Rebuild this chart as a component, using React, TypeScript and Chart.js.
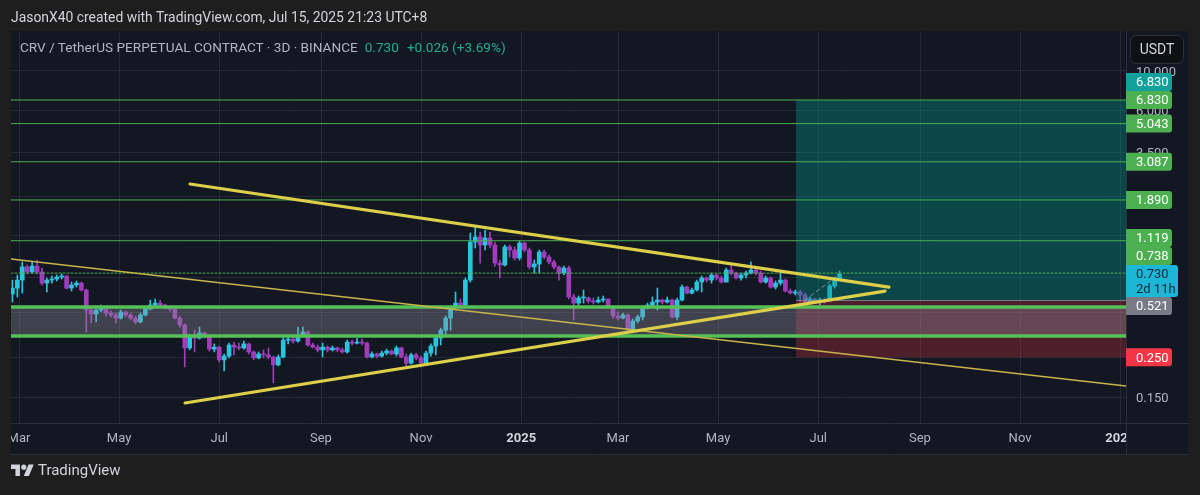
import React, { useEffect, useRef } from 'react';
import { Chart, registerables } from 'chart.js';

Chart.register(...registerables);

// ---------------- data ----------------
// candle times: day offsets from 2024-03-01, one 3D candle each
const firstCandleDay = -4;
const candleStepDays = 3;
const firstOpen = 0.564;
const closes = [
  0.609, 0.675, 0.799, 0.749, 0.808, 0.749, 0.649, 0.675, 0.684, 0.702,
  0.711, 0.609, 0.633, 0.649, 0.594, 0.459, 0.436, 0.459, 0.471, 0.442,
  0.431, 0.414, 0.448, 0.431, 0.414, 0.394, 0.431, 0.465, 0.49, 0.502,
  0.49, 0.478, 0.465, 0.414, 0.379, 0.282, 0.329, 0.32, 0.342, 0.329,
  0.278, 0.285, 0.242, 0.254, 0.293, 0.285, 0.282, 0.297, 0.268, 0.248,
  0.261, 0.258, 0.251, 0.227, 0.251, 0.312, 0.316, 0.308, 0.329, 0.346,
  0.293, 0.285, 0.275, 0.285, 0.275, 0.282, 0.275, 0.268, 0.304, 0.3,
  0.304, 0.3, 0.251, 0.261, 0.254, 0.264, 0.271, 0.261, 0.282, 0.251,
  0.232, 0.258, 0.248, 0.232, 0.264, 0.289, 0.32, 0.355, 0.414, 0.471,
  0.502, 0.49, 0.675, 1.101, 1.174, 1.059, 1.159, 1.059, 0.84, 0.819,
  1.033, 0.993, 0.896, 1.087, 0.993, 0.799, 0.83, 0.968, 0.908, 0.852,
  0.799, 0.738, 0.788, 0.543, 0.502, 0.536, 0.536, 0.516, 0.509, 0.522,
  0.529, 0.478, 0.425, 0.414, 0.431, 0.355, 0.399, 0.42, 0.471, 0.49,
  0.509, 0.522, 0.509, 0.522, 0.42, 0.522, 0.617, 0.571, 0.594, 0.658,
  0.693, 0.675, 0.72, 0.693, 0.658, 0.768, 0.738, 0.693, 0.72, 0.738,
  0.768, 0.738, 0.658, 0.693, 0.617, 0.649, 0.675, 0.586, 0.571, 0.579,
  0.557, 0.509, 0.529, 0.516, 0.522, 0.516, 0.625, 0.684, 0.73,
];
const highs = [
  0.675, 0.72, 0.852, 0.819, 0.852, 0.873, 0.788, 0.693, 0.711, 0.72,
  0.73, 0.715, 0.658, 0.667, 0.658, 0.602, 0.471, 0.483, 0.49, 0.478,
  0.453, 0.442, 0.459, 0.453, 0.442, 0.425, 0.442, 0.478, 0.522, 0.529,
  0.522, 0.496, 0.483, 0.471, 0.425, 0.384, 0.337, 0.355, 0.369, 0.346,
  0.333, 0.297, 0.289, 0.261, 0.3, 0.304, 0.3, 0.308, 0.3, 0.271,
  0.268, 0.275, 0.282, 0.254, 0.258, 0.32, 0.329, 0.325, 0.369, 0.369,
  0.351, 0.3, 0.293, 0.3, 0.289, 0.289, 0.285, 0.282, 0.312, 0.312,
  0.32, 0.316, 0.304, 0.268, 0.264, 0.271, 0.278, 0.275, 0.289, 0.285,
  0.261, 0.264, 0.264, 0.254, 0.271, 0.297, 0.329, 0.364, 0.425, 0.483,
  0.579, 0.529, 0.693, 1.235, 1.335, 1.252, 1.285, 1.252, 1.101, 0.873,
  1.059, 1.059, 1.033, 1.115, 1.101, 1.019, 0.873, 0.993, 0.993, 0.932,
  0.873, 0.808, 0.808, 0.808, 0.564, 0.55, 0.594, 0.543, 0.536, 0.543,
  0.55, 0.529, 0.483, 0.448, 0.442, 0.436, 0.409, 0.431, 0.483, 0.502,
  0.543, 0.609, 0.529, 0.543, 0.529, 0.536, 0.633, 0.625, 0.609, 0.675,
  0.711, 0.702, 0.738, 0.73, 0.711, 0.788, 0.819, 0.749, 0.738, 0.758,
  0.852, 0.778, 0.758, 0.711, 0.702, 0.667, 0.749, 0.684, 0.602, 0.594,
  0.594, 0.571, 0.543, 0.536, 0.536, 0.536, 0.641, 0.702, 0.758,
];
const lows = [
  0.509, 0.543, 0.571, 0.73, 0.738, 0.73, 0.633, 0.579, 0.649, 0.667,
  0.684, 0.602, 0.586, 0.617, 0.586, 0.346, 0.389, 0.394, 0.448, 0.425,
  0.42, 0.389, 0.409, 0.42, 0.404, 0.384, 0.389, 0.425, 0.459, 0.478,
  0.478, 0.465, 0.453, 0.409, 0.369, 0.221, 0.275, 0.268, 0.316, 0.32,
  0.271, 0.268, 0.235, 0.21, 0.248, 0.258, 0.275, 0.278, 0.261, 0.242,
  0.245, 0.248, 0.245, 0.18, 0.224, 0.248, 0.297, 0.3, 0.304, 0.325,
  0.289, 0.282, 0.268, 0.251, 0.268, 0.271, 0.268, 0.264, 0.264, 0.293,
  0.297, 0.293, 0.248, 0.248, 0.248, 0.251, 0.258, 0.258, 0.254, 0.248,
  0.221, 0.229, 0.242, 0.221, 0.229, 0.254, 0.258, 0.293, 0.333, 0.355,
  0.465, 0.483, 0.483, 0.658, 1.019, 0.84, 0.993, 1.019, 0.808, 0.693,
  0.808, 0.908, 0.873, 0.873, 0.968, 0.778, 0.738, 0.738, 0.885, 0.83,
  0.778, 0.675, 0.72, 0.529, 0.404, 0.49, 0.502, 0.502, 0.496, 0.502,
  0.509, 0.471, 0.414, 0.404, 0.409, 0.351, 0.351, 0.389, 0.404, 0.465,
  0.483, 0.459, 0.496, 0.502, 0.414, 0.404, 0.516, 0.564, 0.564, 0.586,
  0.579, 0.658, 0.649, 0.675, 0.649, 0.658, 0.72, 0.684, 0.675, 0.693,
  0.73, 0.72, 0.649, 0.649, 0.609, 0.602, 0.633, 0.579, 0.564, 0.557,
  0.509, 0.502, 0.502, 0.502, 0.49, 0.502, 0.516, 0.609, 0.675,
];

// drawings (day offset, price)
const levelLines = [6.83, 5.043, 3.087, 1.89, 1.119];
const dottedLevel = 0.738;
const supportZone = [0.477, 0.329];
const upperTrend = [[104.2, 2.32], [530.1, 0.617]];
const lowerTrend = [[101.2, 0.139], [527.7, 0.586]];
const longTrend = [[-4.9, 0.885], [674.6, 0.173]];
const positionStartDay = 473.5;
const positionEntry = 0.521;
const positionTarget = 6.83;
const positionStop = 0.25;
const positionPath = [[479, 0.521], [500, 0.73]];
const lastPrice = 0.73;
const countdown = '2d 11h';

const timeTickDates = [
  '2024-03-01', '2024-05-01', '2024-07-01', '2024-09-01', '2024-11-01', '2025-01-01',
  '2025-03-01', '2025-05-01', '2025-07-01', '2025-09-01', '2025-11-01', '2026-01-01',
];
const timeTickLabels = ['Mar', 'May', 'Jul', 'Sep', 'Nov', '2025', 'Mar', 'May', 'Jul', 'Sep', 'Nov', '2026'];
const priceGrid = [10, 6, 3.5, 2, 1.2, 0.7, 0.45, 0.25, 0.15];
const priceTickLabels = [10, 6, 3.5, 0.15];

// ---------------- style ----------------
const PAGE_BG = '#1e1e1e';
const PANEL_BG = '#131722';
const GRID = 'rgba(60,64,78,0.45)';
const BORDER = '#2a2e39';
const UP = '#2bc4de';
const DOWN = '#a23cbd';
const GREEN = '#4caf50';
const TEAL = '#12a09a';
const YELLOW = '#dccf4a';
const X_MIN = -4.875;
const X_MAX = 674.55;
const Y_MIN = 0.1075;
const Y_MAX = 16.58;

const dayOf = (s: string) => {
  const [y, m, d] = s.split('-').map(Number);
  return (Date.UTC(y, m - 1, d) - Date.UTC(2024, 2, 1)) / 86400000;
};

export default function App() {
  const ref = useRef<HTMLCanvasElement>(null);

  useEffect(() => {
    document.body.style.margin = '0';
    document.body.style.background = PAGE_BG;
    const canvas = ref.current;
    if (!canvas) return;

    const candleDays = closes.map((_, i) => firstCandleDay + i * candleStepDays);
    const opens = closes.map((_, i) => (i === 0 ? firstOpen : closes[i - 1]));
    const colors = closes.map((c, i) => (c >= opens[i] ? UP : DOWN));
    const tickDays = timeTickDates.map(dayOf);

    const seg = (pts: number[][], color: string, width: number, order: number, dash: number[] = []) => ({
      type: 'line',
      data: pts.map(([d, p]) => ({ x: d, y: p })),
      borderColor: color,
      borderWidth: width,
      borderDash: dash,
      borderCapStyle: 'round',
      pointRadius: 0,
      fill: false,
      tension: 0,
      order,
    });

    const decor = {
      id: 'decor',
      beforeDraw(chart: any) {
        const { ctx, chartArea: a } = chart;
        const xs = chart.scales.x;
        const ys = chart.scales.y;
        ctx.save();
        ctx.fillStyle = PAGE_BG;
        ctx.fillRect(0, 0, chart.width, chart.height);
        ctx.fillStyle = PANEL_BG;
        ctx.fillRect(11, 31, 1188 - 11, 455 - 31);
        ctx.strokeStyle = GRID;
        ctx.lineWidth = 1;
        ctx.beginPath();
        tickDays.forEach((d) => {
          const x = Math.round(xs.getPixelForValue(d)) + 0.5;
          ctx.moveTo(x, a.top);
          ctx.lineTo(x, a.bottom);
        });
        priceGrid.forEach((p) => {
          const y = Math.round(ys.getPixelForValue(p)) + 0.5;
          ctx.moveTo(a.left, y);
          ctx.lineTo(a.right, y);
        });
        ctx.stroke();
        ctx.restore();
      },
      afterDatasetDraw(chart: any, args: any) {
        if (args.index !== 1) return;
        const { ctx, chartArea: a } = chart;
        const xs = chart.scales.x;
        const ys = chart.scales.y;
        ctx.save();
        ctx.beginPath();
        ctx.rect(a.left, a.top, a.right - a.left, a.bottom - a.top);
        ctx.clip();
        const px = xs.getPixelForValue(positionStartDay);
        const yT = ys.getPixelForValue(positionTarget);
        const yE = ys.getPixelForValue(positionEntry);
        const yS = ys.getPixelForValue(positionStop);
        ctx.fillStyle = 'rgba(0,150,136,0.38)';
        ctx.fillRect(px, yT, a.right - px, yE - yT);
        ctx.fillStyle = 'rgba(242,54,69,0.26)';
        ctx.fillRect(px, yE, a.right - px, yS - yE);
        ctx.strokeStyle = 'rgba(130,133,144,0.9)';
        ctx.lineWidth = 1;
        ctx.beginPath();
        ctx.moveTo(px, Math.round(yE) + 0.5);
        ctx.lineTo(a.right, Math.round(yE) + 0.5);
        ctx.stroke();
        const yb1 = ys.getPixelForValue(supportZone[0]);
        const yb2 = ys.getPixelForValue(supportZone[1]);
        ctx.fillStyle = 'rgba(140,143,156,0.36)';
        ctx.fillRect(a.left, yb1, a.right - a.left, yb2 - yb1);
        ctx.restore();
      },
      afterDraw(chart: any) {
        const { ctx, chartArea: a } = chart;
        const xs = chart.scales.x;
        const ys = chart.scales.y;
        ctx.save();
        // separators
        ctx.strokeStyle = BORDER;
        ctx.lineWidth = 1;
        ctx.beginPath();
        ctx.moveTo(Math.round(a.right) + 0.5, 31);
        ctx.lineTo(Math.round(a.right) + 0.5, 455);
        ctx.moveTo(11, Math.round(a.bottom) + 0.5);
        ctx.lineTo(1188, Math.round(a.bottom) + 0.5);
        ctx.moveTo(11, 454.5);
        ctx.lineTo(1188, 454.5);
        ctx.stroke();

        // time labels
        ctx.save();
        ctx.beginPath();
        ctx.rect(a.left, a.bottom + 1, a.right - a.left, 31);
        ctx.clip();
        ctx.textAlign = 'center';
        ctx.textBaseline = 'middle';
        tickDays.forEach((d, i) => {
          const lab = timeTickLabels[i];
          const isYear = /^\d{4}$/.test(lab);
          ctx.font = isYear ? 'bold 13px Roboto' : '13px Roboto';
          ctx.fillStyle = isYear ? '#d1d4dc' : '#b2b5be';
          ctx.fillText(lab, xs.getPixelForValue(d), a.bottom + 16);
        });
        ctx.restore();

        // price tick labels
        const tx = a.right + 10;
        ctx.font = '13px Roboto';
        ctx.textAlign = 'left';
        ctx.textBaseline = 'middle';
        ctx.fillStyle = '#b2b5be';
        priceTickLabels.forEach((p) => {
          ctx.fillText(p.toFixed(3), tx, ys.getPixelForValue(p) + 2);
        });

        // price label boxes with collision handling
        const H = 18;
        const yCur = ys.getPixelForValue(lastPrice);
        const curTop = yCur - 9;
        const curBot = curTop + 32;
        const labels = [
          ...levelLines.map((p) => ({ p, bg: GREEN, fg: '#ffffff' })),
          { p: positionTarget, bg: TEAL, fg: '#ffffff' },
          { p: dottedLevel, bg: GREEN, fg: '#ffffff' },
          { p: positionEntry, bg: '#787b86', fg: '#ffffff' },
          { p: positionStop, bg: '#f23645', fg: '#ffffff' },
        ].map((l) => ({ ...l, y: ys.getPixelForValue(l.p) }));
        const above = labels.filter((l) => l.p > lastPrice).sort((u, v) => v.y - u.y);
        const below = labels.filter((l) => l.p < lastPrice).sort((u, v) => u.y - v.y);
        let limit = curTop;
        above.forEach((l) => {
          const c = Math.min(l.y, limit - H / 2);
          (l as any).c = c;
          limit = c - H / 2;
        });
        limit = curBot;
        below.forEach((l) => {
          const c = Math.max(l.y, limit + H / 2);
          (l as any).c = c;
          limit = c + H / 2;
        });
        const bx = a.right;
        const drawBox = (top: number, h: number, w: number, bg: string) => {
          ctx.fillStyle = bg;
          ctx.beginPath();
          (ctx as any).roundRect(bx, top, w, h, [0, 3, 3, 0]);
          ctx.fill();
        };
        [...above, ...below].forEach((l: any) => {
          drawBox(l.c - H / 2, H, 46, l.bg);
          ctx.fillStyle = l.fg;
          ctx.fillText(l.p.toFixed(3), tx, l.c + 1);
        });
        drawBox(curTop, 32, 52, '#1eb6d6');
        ctx.fillStyle = '#0e2a3a';
        ctx.fillText(lastPrice.toFixed(3), tx, yCur + 0.5);
        ctx.fillText(countdown, tx, yCur + 15.5);

        // currency button
        ctx.fillStyle = '#0f1014';
        ctx.strokeStyle = '#2e3038';
        ctx.beginPath();
        (ctx as any).roundRect(1130.5, 35.5, 53, 28, 6);
        ctx.fill();
        ctx.stroke();
        ctx.fillStyle = '#d1d4dc';
        ctx.font = '14px Roboto';
        ctx.textAlign = 'center';
        ctx.fillText('USDT', 1157, 50);
        ctx.restore();
      },
    };

    const chart = new Chart(canvas, {
      type: 'bar',
      data: {
        datasets: [
          {
            type: 'bar',
            data: candleDays.map((d, i) => ({ x: d, y: [lows[i], highs[i]] })),
            backgroundColor: colors,
            borderWidth: 0,
            barThickness: 1,
            grouped: false,
            minBarLength: 1,
            order: 30,
          },
          {
            type: 'bar',
            data: candleDays.map((d, i) => ({ x: d, y: [opens[i], closes[i]] })),
            backgroundColor: colors,
            borderWidth: 0,
            barThickness: 4,
            grouped: false,
            minBarLength: 1,
            order: 29,
          },
          seg(positionPath, 'rgba(170,172,182,0.7)', 1, 8, [4, 3]),
          ...levelLines.map((p) => seg([[X_MIN, p], [X_MAX, p]], GREEN, 1, 7)),
          seg([[X_MIN, dottedLevel], [X_MAX, dottedLevel]], GREEN, 1, 7, [2, 2]),
          ...supportZone.map((p) => seg([[X_MIN, p], [X_MAX, p]], '#55c257', 3.5, 6)),
          seg(longTrend, '#c8b64c', 1.5, 5),
          seg(upperTrend, YELLOW, 3.2, 4),
          seg(lowerTrend, YELLOW, 3.2, 4),
        ] as any,
      },
      options: {
        responsive: false,
        animation: false,
        events: [],
        layout: { padding: { left: 11, right: 74, top: 31, bottom: 72 } },
        plugins: { legend: { display: false }, tooltip: { enabled: false } },
        scales: {
          x: { type: 'linear', display: false, min: X_MIN, max: X_MAX, offset: false, bounds: 'data' },
          y: { type: 'logarithmic', display: false, min: Y_MIN, max: Y_MAX, bounds: 'data' },
        },
      } as any,
      plugins: [decor as any],
    });
    return () => chart.destroy();
  }, []);

  return (
    <div
      style={{
        position: 'fixed',
        left: 0,
        top: 0,
        width: 1200,
        height: 495,
        overflow: 'hidden',
        background: PAGE_BG,
        fontFamily: 'Roboto, sans-serif',
      }}
    >
      <canvas ref={ref} width={1200} height={495} style={{ position: 'absolute', left: 0, top: 0, width: 1200, height: 495 }} />
      <div style={{ position: 'absolute', left: 11, top: 8, fontSize: 13.9, lineHeight: '18px', color: '#d1d4dc', whiteSpace: 'nowrap' }}>
        JasonX40 created with TradingView.com, Jul 15, 2025 21:23 UTC+8
      </div>
      <div style={{ position: 'absolute', left: 20, top: 38, fontSize: 13.6, lineHeight: '18px', color: '#b2b5be', whiteSpace: 'nowrap' }}>
        CRV / TetherUS PERPETUAL CONTRACT · 3D · BINANCE
        <span style={{ color: '#22ab94', marginLeft: 7 }}>0.730</span>
        <span style={{ color: '#22ab94', marginLeft: 8 }}>+0.026 (+3.69%)</span>
      </div>
      <svg style={{ position: 'absolute', left: 11, top: 462 }} width={23} height={18} viewBox="0 0 36 28" fill="#d1d4dc">
        <path d="M14 22H7V11H0V4h14v18zM28 22h-8l7.5-18h8L28 22z" />
        <circle cx="20" cy="8" r="4" />
      </svg>
      <div style={{ position: 'absolute', left: 38, top: 460, fontSize: 15, lineHeight: '20px', color: '#d1d4dc', whiteSpace: 'nowrap' }}>
        TradingView
      </div>
    </div>
  );
}
